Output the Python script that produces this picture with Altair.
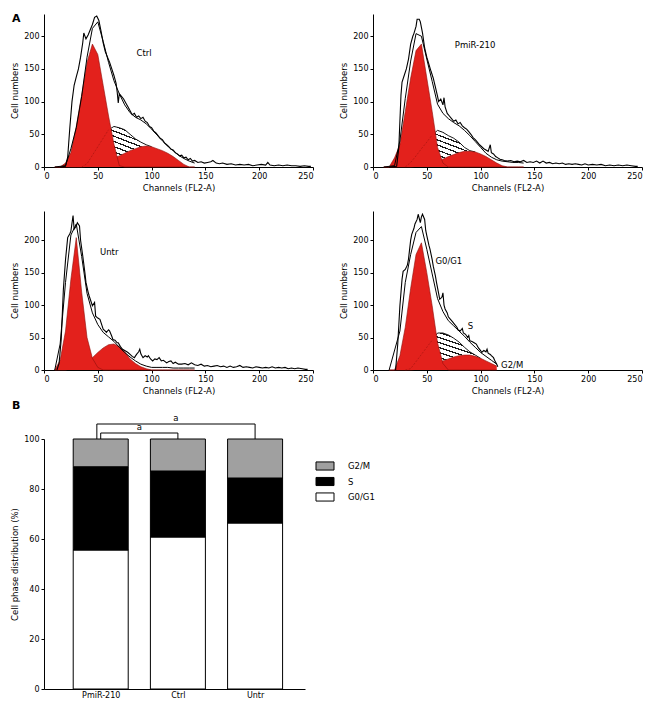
import json
import altair as alt
import pandas as pd

FONT = "DejaVu Sans"
RED = "#e3211c"
DARK_RED = "#8e0f0b"

# ---------------- Panel A data ----------------
GRID = [10, 15, 20, 25, 30, 35, 40, 45, 50, 55, 60, 65, 70, 75, 80, 85, 90, 95,
        100, 105, 110, 115, 120, 125, 130, 135, 140]
GRID_EX = [15, 20, 25, 30, 35, 40, 45, 50, 55, 60, 65, 70, 75, 80, 85, 90, 95,
           100, 105, 110, 115]

ctrl_g1 = [0, 0, 6, 22, 62, 110, 160, 188, 172, 125, 78, 35, 2, 0, 0, 0, 0, 0, 0, 0, 0, 0, 0, 0, 0, 0, 0]
ctrl_g2 = [0, 0, 0, 0, 0, 0, 1, 3, 5, 8, 11, 14, 17, 21, 25, 28, 31, 32, 31, 28, 25, 21, 16, 10, 4, 0, 0]
ctrl_s = [0, 0, 0, 0, 0, 0, 5, 18, 31, 44, 57, 62, 60, 57, 50, 43, 38, 34, 31, 28, 25, 21, 16, 10, 4, 0, 0]
ctrl_fit = [0, 0, 2, 28, 60, 108, 168, 212, 222, 192, 160, 132, 112, 95, 83, 76, 72, 66, 58, 49, 40, 32, 25, 18, 13, 9, 6]
ctrl_hist_ch = [15, 20, 22, 24, 26, 28, 30, 32, 34, 36, 37, 39, 41, 43, 45, 47, 49, 51, 53, 55, 57, 59, 61, 63, 65,
                67, 68, 69, 70, 72, 74, 76, 78, 80, 82, 84, 86, 88, 90, 92, 94, 96, 98, 100, 102, 104, 106, 108,
                110, 112, 114, 116, 118, 120, 122, 124, 126, 128, 130, 132, 134, 136, 138, 140, 143, 146, 149,
                152, 155, 157, 160, 163, 166, 170, 174, 178, 182, 186, 190, 194, 198, 202, 206, 208, 210, 214,
                218, 222, 226, 230, 234, 238, 242, 246, 248]
ctrl_hist = [0, 1, 15, 60, 100, 125, 138, 150, 168, 190, 205, 196, 202, 210, 218, 229, 231, 224, 208, 190, 176, 168,
             160, 150, 140, 128, 115, 98, 112, 108, 104, 98, 92, 86, 80, 82, 76, 78, 74, 76, 70, 68, 62, 60, 55, 52,
             48, 44, 42, 37, 34, 31, 27, 26, 22, 20, 17, 18, 14, 15, 11, 13, 9, 10, 7, 8, 6, 7, 8, 10, 6, 5, 6, 4,
             5, 3, 4, 3, 4, 2, 3, 4, 3, 7, 3, 2, 3, 2, 3, 2, 2, 1, 2, 1, 1]

pmir_g1 = [0, 0, 14, 34, 85, 136, 178, 188, 136, 85, 30, 6, 0, 0, 0, 0, 0, 0, 0, 0, 0, 0, 0, 0, 0, 0, 0]
pmir_g2 = [0, 0, 0, 0, 0, 0, 1, 2, 4, 6, 9, 12, 16, 19, 22, 24, 24, 23, 20, 16, 11, 6, 2, 0, 0, 0, 0]
pmir_s = [0, 0, 0, 0, 0, 7, 17, 28, 38, 49, 56, 53, 48, 44, 38, 30, 25, 23, 20, 16, 11, 6, 2, 0, 0, 0, 0]
pmir_fit = [0, 0, 2, 40, 105, 162, 204, 200, 165, 131, 96, 82, 74, 68, 63, 56, 48, 39, 30, 21, 15, 11, 9, 8, 7, 7, 6]
pmir_hist_ch = [15, 22, 24, 26, 27, 29, 31, 33, 35, 37, 38, 40, 41, 43, 44, 46, 48, 50, 52, 54, 56, 58, 60, 61, 63,
                65, 66, 67, 69, 71, 73, 75, 77, 79, 81, 83, 85, 87, 89, 91, 93, 95, 97, 99, 101, 103, 105, 107, 109,
                110, 112, 114, 116, 118, 120, 122, 125, 128, 131, 134, 137, 140, 143, 146, 149, 152, 155, 158, 161,
                164, 167, 170, 173, 176, 179, 182, 185, 188, 191, 194, 197, 200, 204, 208, 212, 216, 220, 224, 228,
                232, 236, 240, 244, 246]
pmir_hist = [0, 1, 30, 110, 130, 140, 150, 165, 188, 200, 204, 215, 226, 226, 222, 205, 182, 168, 157, 146, 136, 122,
             108, 100, 104, 95, 106, 92, 82, 78, 74, 70, 72, 66, 68, 63, 60, 58, 54, 50, 45, 42, 38, 34, 31, 28, 26,
             24, 34, 22, 20, 16, 14, 12, 11, 10, 9, 10, 8, 9, 8, 10, 7, 8, 7, 9, 6, 9, 6, 7, 5, 6, 5, 6, 4, 5, 4, 5,
             4, 3, 5, 3, 4, 3, 4, 2, 3, 2, 3, 2, 3, 2, 1, 1]

untr_g1 = [0, 15, 60, 140, 204, 120, 50, 18, 4, 0, 0, 0, 0, 0, 0, 0, 0, 0, 0, 0, 0, 0, 0, 0, 0, 0, 0]
untr_g2 = [0, 0, 0, 2, 5, 9, 14, 19, 27, 34, 39, 40, 36, 28, 17, 10, 5, 2, 0, 0, 0, 0, 0, 0, 0, 0, 0]
untr_fit = [0, 40, 135, 208, 225, 175, 118, 88, 70, 58, 51, 44, 35, 27, 20, 14, 9, 6, 4, 4, 4, 4, 3, 3, 3, 3, 3]
untr_hist_ch = [12, 14, 16, 18, 20, 22, 24, 25, 27, 28, 30, 31, 33, 34, 36, 38, 39, 41, 42, 44, 45, 47, 48, 50, 52,
                54, 55, 57, 58, 60, 61, 63, 64, 66, 68, 69, 71, 73, 75, 77, 78, 80, 82, 84, 86, 88, 89, 90, 92, 94,
                96, 97, 99, 101, 103, 105, 107, 109, 111, 114, 116, 118, 120, 122, 125, 128, 131, 134, 137, 140, 143,
                146, 149, 152, 155, 158, 161, 164, 167, 170, 173, 176, 179, 182, 185, 188, 191, 194, 197, 200, 203,
                206, 209, 212, 215, 218, 221, 224, 227, 230, 233, 236, 240, 243, 245]
untr_hist = [0, 10, 47, 124, 170, 204, 210, 214, 238, 217, 222, 227, 222, 200, 176, 150, 135, 120, 114, 104, 99, 104,
             83, 80, 78, 68, 63, 60, 58, 62, 60, 52, 47, 46, 42, 42, 36, 32, 30, 28, 27, 24, 21, 19, 24, 28, 32, 25,
             19, 22, 20, 22, 17, 14, 17, 16, 19, 14, 15, 11, 13, 14, 10, 12, 9, 9, 10, 8, 11, 8, 7, 9, 6, 7, 5, 6, 7,
             5, 6, 4, 6, 4, 5, 7, 4, 5, 4, 3, 5, 4, 3, 4, 3, 5, 3, 4, 3, 4, 2, 3, 2, 3, 2, 1, 1]

ex_g1 = [0, 0, 22, 66, 126, 178, 196, 150, 99, 42, 10, 0, 0, 0, 0, 0, 0, 0, 0, 0, 0]
ex_g2 = [0, 0, 0, 0, 0, 1, 3, 5, 8, 11, 14, 17, 20, 22, 23, 23, 21, 18, 14, 10, 6]
ex_s = [0, 0, 0, 0, 2, 13, 24, 35, 46, 57, 57, 54, 49, 43, 35, 28, 23, 18, 14, 10, 6]
ex_fit = [0, 0, 60, 135, 178, 212, 221, 186, 148, 110, 90, 76, 68, 60, 52, 43, 35, 27, 21, 15, 9]
ex_hist_ch = [21, 23, 25, 27, 28, 30, 32, 33, 35, 36, 38, 39, 41, 42, 44, 45, 46, 48, 49, 50, 52, 53, 55, 56, 58,
              59, 61, 62, 64, 65, 66, 67, 69, 70, 72, 74, 76, 78, 79, 81, 83, 84, 86, 88, 89, 90, 92, 94, 96, 98,
              100, 101, 103, 105, 106, 107, 109, 110, 112, 113, 115, 116]
ex_hist = [0, 40, 99, 140, 152, 155, 162, 171, 200, 209, 218, 225, 232, 240, 227, 236, 240, 232, 215, 207, 192, 186,
           170, 160, 145, 135, 118, 109, 112, 119, 100, 94, 88, 82, 78, 74, 70, 66, 62, 60, 64, 57, 55, 50, 53, 45,
           44, 42, 40, 34, 30, 27, 30, 28, 32, 26, 24, 22, 19, 15, 9, 5]

ctrl_labels = (["Ctrl"], [86], [174])
pmir_labels = (["PmiR-210"], [76], [187])
untr_labels = (["Untr"], [52], [182])
ex_labels = (["G0/G1", "S", "G2/M"], [58, 88, 119], [168, 68, 8])

X_TICKS = [0, 50, 100, 150, 200, 250]
Y_TICKS = [0, 50, 100, 150, 200]

# ---------------- Panel B data ----------------
groups = ["PmiR-210", "Ctrl", "Untr"]
phases = ["G0/G1", "S", "G2/M"]
g0g1_pct = [55.6, 60.8, 66.4]
s_pct = [33.3, 26.4, 18.0]
g2m_pct = [11.1, 12.8, 15.6]
bracket_from = ["PmiR-210", "PmiR-210"]
bracket_to = ["Untr", "Ctrl"]
bracket_level = [106, 102.4]
bracket_text = ["a", "a"]


def hatch_gradient(n=8, w=0.26):
    stops = []
    for i in range(n):
        a = i / n
        b = (i + w) / n
        stops += [alt.GradientStop(color="white", offset=a),
                  alt.GradientStop(color="#1a1a1a", offset=a),
                  alt.GradientStop(color="#1a1a1a", offset=b),
                  alt.GradientStop(color="white", offset=b)]
    stops.append(alt.GradientStop(color="white", offset=1))
    return alt.LinearGradient(gradient="linear", stops=stops, x1=0.25, y1=1, x2=0.75, y2=0)


def panel(grid, g1, g2, s, fit, hch, hv, labels, ymax, height, tag=None):
    xs = alt.Scale(domain=[0, 250], nice=False, zero=False)
    ys = alt.Scale(domain=[0, ymax], nice=False)

    def X(f):
        return alt.X(f"{f}:Q", scale=xs,
                     axis=alt.Axis(values=X_TICKS, title="Channels (FL2-A)", format="d"))

    def Y(f):
        return alt.Y(f"{f}:Q", scale=ys,
                     axis=alt.Axis(values=Y_TICKS, title="Cell numbers", format="d"))

    comp = pd.DataFrame({"ch": grid, "g1": g1, "g2": g2, "fit": fit,
                         "s": s if s is not None else g2})
    layers = []
    if s is not None:
        n = len(grid)
        vis = [s[i] > max(g1[i], g2[i]) + 0.5 for i in range(n)]
        mask = [vis[i] or (i > 0 and vis[i - 1]) or (i < n - 1 and vis[i + 1]) for i in range(n)]
        hdf = comp[mask]
        layers.append(alt.Chart(hdf).mark_area(color=hatch_gradient(), interpolate="linear", opacity=1)
                      .encode(x=X("ch"), y=Y("s"), y2="g2:Q"))
        layers.append(alt.Chart(hdf).mark_line(color="black", strokeWidth=0.9)
                      .encode(x=X("ch"), y=Y("s")))
    layers.append(alt.Chart(comp).mark_area(color=RED, opacity=1, fillOpacity=1,
                                            line={"color": DARK_RED, "strokeWidth": 0.6})
                  .encode(x=X("ch"), y=Y("g2")))
    layers.append(alt.Chart(comp).mark_area(color=RED, opacity=1, fillOpacity=1,
                                            line={"color": DARK_RED, "strokeWidth": 0.6})
                  .encode(x=X("ch"), y=Y("g1")))
    if s is not None:
        n = len(grid)
        inside = [s[i] > 0 and s[i] <= g1[i] for i in range(n)]
        m2 = [inside[i] or (i < n - 1 and inside[i + 1]) for i in range(n)]
        layers.append(alt.Chart(comp[m2]).mark_line(color=DARK_RED, strokeWidth=0.8,
                                                     strokeDash=[2, 1.5], opacity=0.6)
                      .encode(x=X("ch"), y=Y("s")))
    fdf = comp[[True] + [comp["fit"].iloc[i - 1] > 0 or comp["fit"].iloc[i] > 0 for i in range(1, len(grid))]]
    layers.append(alt.Chart(fdf).mark_line(color="black", strokeWidth=1)
                  .encode(x=X("ch"), y=Y("fit")))
    hdf2 = pd.DataFrame({"ch": hch, "v": hv})
    layers.append(alt.Chart(hdf2).mark_line(color="black", strokeWidth=1.1)
                  .encode(x=X("ch"), y=Y("v")))
    ldf = pd.DataFrame({"t": labels[0], "ch": labels[1], "v": labels[2]})
    layers.append(alt.Chart(ldf).mark_text(align="left", baseline="middle", fontSize=8.5, color="black")
                  .encode(x=X("ch"), y=Y("v"), text="t:N"))
    if tag:
        layers.append(alt.Chart(pd.DataFrame({"t": [tag]})).mark_text(
            align="left", baseline="middle", fontSize=11, fontWeight="bold", color="black")
            .encode(x=alt.value(-32), y=alt.value(5), text="t:N"))
    return alt.layer(*layers).properties(width=269, height=height)


p_ctrl = panel(GRID, ctrl_g1, ctrl_g2, ctrl_s, ctrl_fit, ctrl_hist_ch, ctrl_hist, ctrl_labels, 234, 153, tag="A")
p_pmir = panel(GRID, pmir_g1, pmir_g2, pmir_s, pmir_fit, pmir_hist_ch, pmir_hist, pmir_labels, 234, 153)
p_untr = panel(GRID, untr_g1, untr_g2, None, untr_fit, untr_hist_ch, untr_hist, untr_labels, 245, 159)
p_ex = panel(GRID_EX, ex_g1, ex_g2, ex_s, ex_fit, ex_hist_ch, ex_hist, ex_labels, 245, 159)

# ---------------- Panel B ----------------
rows = []
for gi, g in enumerate(groups):
    base = 0.0
    for ph, vals in zip(phases, [g0g1_pct, s_pct, g2m_pct]):
        rows.append({"pos": gi, "group": g, "phase": ph, "y0": base, "y1": base + vals[gi]})
        base += vals[gi]
bdf = pd.DataFrame(rows)

bxs = alt.Scale(domain=[-0.67, 2.582], nice=False, zero=False)
bys = alt.Scale(domain=[0, 100], nice=False)
label_expr = f"{json.dumps(groups)}[datum.value]"


def BX(f):
    return alt.X(f"{f}:Q", scale=bxs,
                 axis=alt.Axis(values=[0, 1, 2], labelExpr=label_expr, title=None, ticks=False))


def BY(f):
    return alt.Y(f"{f}:Q", scale=bys,
                 axis=alt.Axis(values=[0, 20, 40, 60, 80, 100], title="Cell phase distribution (%)"))


bars = alt.Chart(bdf).mark_bar(width=55, stroke="black", strokeWidth=1).encode(
    x=BX("pos"), y=BY("y0"), y2="y1:Q",
    color=alt.Color("phase:N",
                    scale=alt.Scale(domain=["G2/M", "S", "G0/G1"], range=["#a0a0a0", "#000000", "#ffffff"]),
                    legend=alt.Legend(title=None, orient="none", legendX=276, legendY=447,
                                      symbolType="M-2,-0.9H2V0.9H-2Z", symbolSize=81,
                                      symbolStrokeColor="black", symbolStrokeWidth=1,
                                      labelFontSize=8.5, labelOffset=18, rowPadding=1.5, padding=0)),
    order=alt.Order("y0:Q"))

pos_of = {g: i for i, g in enumerate(groups)}
leg_offset = [-0.05, 0.0]
br = pd.DataFrame({"a": [pos_of[f] + o for f, o in zip(bracket_from, leg_offset)],
                   "b": [pos_of[t] for t in bracket_to],
                   "lvl": bracket_level, "top": [100, 100], "t": bracket_text})
br["mid"] = (br["a"] + br["b"]) / 2
hrule = alt.Chart(br).mark_rule(color="black", strokeWidth=1).encode(x=BX("a"), x2="b:Q", y=BY("lvl"))
lrule = alt.Chart(br).mark_rule(color="black", strokeWidth=1).encode(x=BX("a"), y=BY("lvl"), y2="top:Q")
rrule = alt.Chart(br).mark_rule(color="black", strokeWidth=1).encode(x=BX("b"), y=BY("lvl"), y2="top:Q")
btext = alt.Chart(br).mark_text(baseline="bottom", dy=-1, fontSize=8.5, color="black").encode(
    x=BX("mid"), y=BY("lvl"), text="t:N")
btag = alt.Chart(pd.DataFrame({"t": ["B"]})).mark_text(
    align="left", baseline="middle", fontSize=11, fontWeight="bold", color="black").encode(
    x=alt.value(-32), y=alt.value(-33), text="t:N")
chart_b = alt.layer(bars, hrule, lrule, rrule, btext, btag).properties(width=261, height=250)

top = alt.vconcat(alt.hconcat(p_ctrl, p_pmir, spacing=25),
                  alt.hconcat(p_untr, p_ex, spacing=25), spacing=19)
chart = alt.vconcat(top, chart_b, spacing=5).properties(
    padding={"left": 2, "top": 5, "right": 5, "bottom": 5}
).configure_view(stroke=None).configure_axis(
    domainColor="black", tickColor="black", labelColor="black", titleColor="black",
    labelFont=FONT, titleFont=FONT, labelFontSize=8, titleFontSize=8.5, titleFontWeight="normal",
    grid=False, tickSize=3, labelPadding=2, domainWidth=1, tickWidth=1
).configure_axisY(titlePadding=4).configure_axisX(titlePadding=3).configure_legend(
    labelFont=FONT).configure_text(font=FONT)

chart.save("out.html", embed_options={"renderer": "svg", "actions": False})
